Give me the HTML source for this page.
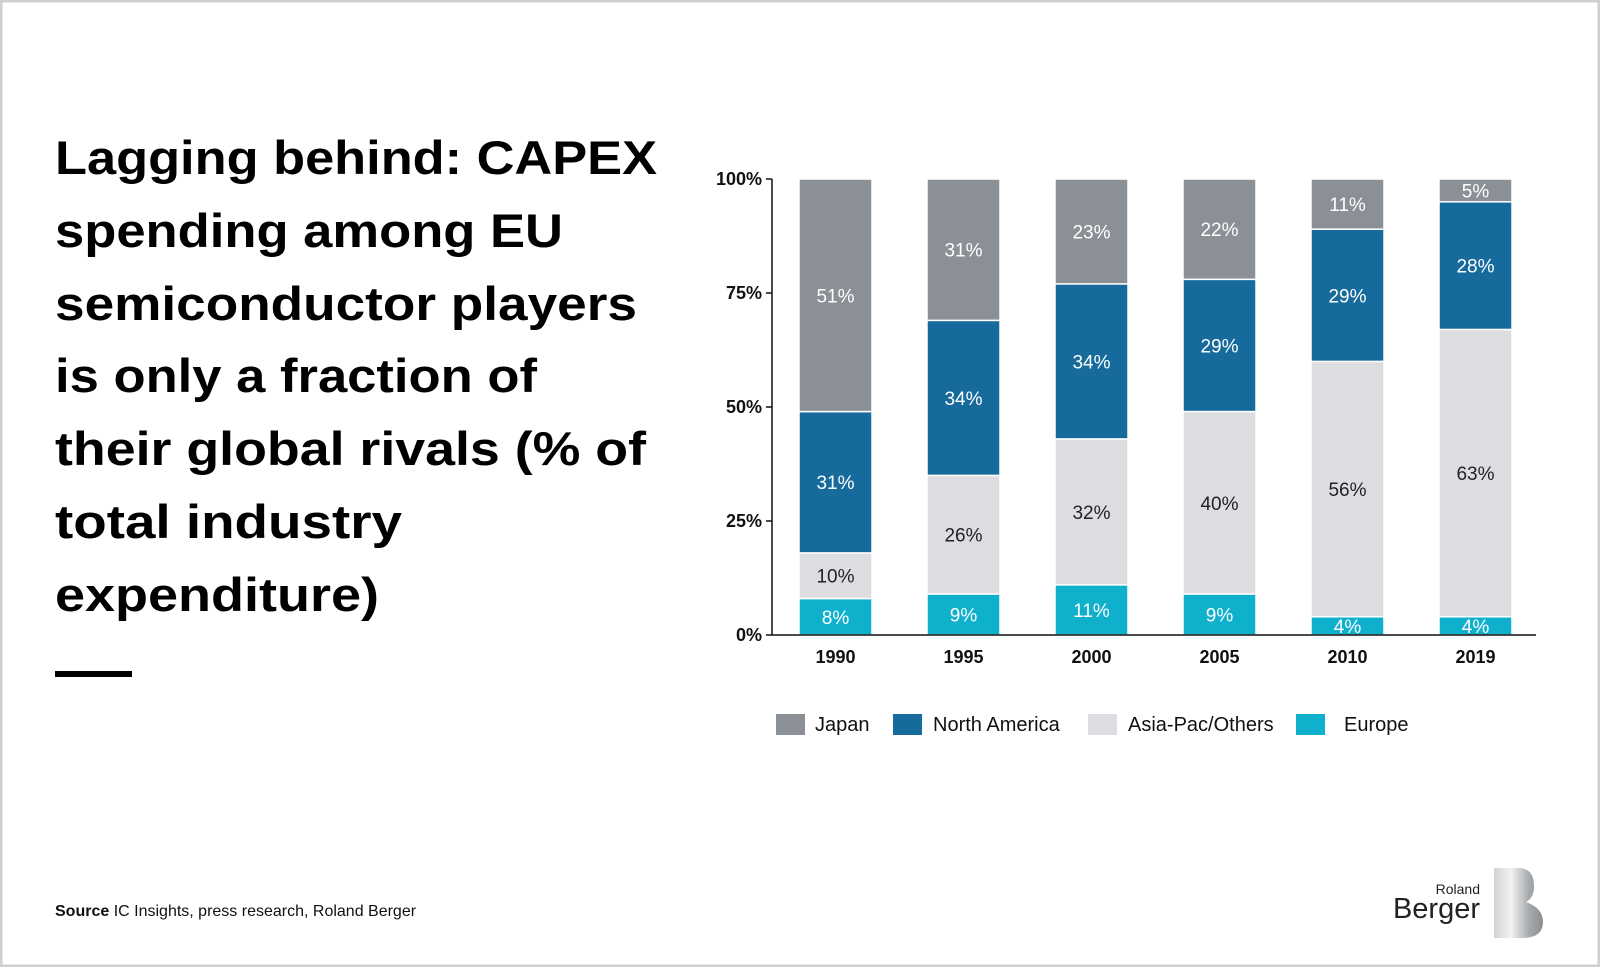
<!DOCTYPE html>
<html><head><meta charset="utf-8"><style>
html,body{margin:0;padding:0;background:#fff}
body{width:1600px;height:967px;overflow:hidden;position:relative;font-family:"Liberation Sans",sans-serif}
</style></head><body>
<svg width="1600" height="967" xmlns="http://www.w3.org/2000/svg">
<defs><linearGradient id="bg" x1="0" x2="1" y1="0" y2="0"><stop offset="0" stop-color="#cfd1d3"/><stop offset="0.35" stop-color="#f2f3f4"/><stop offset="0.7" stop-color="#a9acaf"/><stop offset="1" stop-color="#8a8d90"/></linearGradient></defs>
<rect x="1" y="1" width="1598" height="965" fill="#fff" stroke="#cfcfcf" stroke-width="3"/>
<g font-family="Liberation Sans, sans-serif" font-weight="bold" font-size="47" fill="#000">
<text x="55" y="174" textLength="602" lengthAdjust="spacingAndGlyphs">Lagging behind: CAPEX</text>
<text x="55" y="247" textLength="508" lengthAdjust="spacingAndGlyphs">spending among EU</text>
<text x="55" y="320" textLength="582" lengthAdjust="spacingAndGlyphs">semiconductor players</text>
<text x="55" y="392" textLength="482" lengthAdjust="spacingAndGlyphs">is only a fraction of</text>
<text x="55" y="465" textLength="591" lengthAdjust="spacingAndGlyphs">their global rivals (% of</text>
<text x="55" y="538" textLength="347" lengthAdjust="spacingAndGlyphs">total industry</text>
<text x="55" y="611" textLength="324" lengthAdjust="spacingAndGlyphs">expenditure)</text>
</g>
<rect x="55" y="671" width="77" height="6" fill="#000"/>
<text x="55" y="916" font-size="16" fill="#111"><tspan font-weight="bold">Source</tspan> IC Insights, press research, Roland Berger</text>
<g>
<text x="1480" y="894" font-size="14" fill="#222" text-anchor="end">Roland</text>
<text x="1480" y="918" font-size="29" fill="#222" text-anchor="end">Berger</text>
<path d="M1494,868 H1518 Q1534,868 1534,886 Q1534,898 1526,902 Q1543,908 1543,922 Q1543,938 1522,938 H1494 Z" fill="url(#bg)"/>
</g>
<g id="chart"></g>
</svg>
<script>
const years = ['1990','1995','2000','2005','2010','2019'];
const europe = [8,9,11,9,4,4];
const asia = [10,26,32,40,56,63];
const northAmerica = [31,34,34,29,29,28];
const japan = [51,31,23,22,11,5];
const yTicks = [0,25,50,75,100];
const seriesNames = ['Japan','North America','Asia-Pac/Others','Europe'];

const NS='http://www.w3.org/2000/svg';
const g=document.getElementById('chart');
const x0=772, y0=635, yTop=179, barW=73, step=128, firstBar=799;
const yS=v=>y0-(v/100)*(y0-yTop);
const xS=i=>firstBar+i*step;
function mk(tag,attrs,parent){const e=document.createElementNS(NS,tag);for(const k in attrs)e.setAttribute(k,attrs[k]);(parent||g).appendChild(e);return e;}

const stack=[
 {vals:europe,color:'#0fb0cc',text:'#fff',name:'europe'},
 {vals:asia,color:'#dcdde0',text:'#222',name:'asia-pac'},
 {vals:northAmerica,color:'#176b9c',text:'#fff',name:'north-america'},
 {vals:japan,color:'#8b8f96',text:'#fff',name:'japan'}];

years.forEach((yr,i)=>{
  let cum=0;
  stack.forEach(s=>{
    const v=s.vals[i];
    const yt=yS(cum+v), yb=yS(cum);
    const r=mk('rect',{x:xS(i),y:yt,width:barW,height:yb-yt,fill:s.color,stroke:'#fff','stroke-width':1.5});
    
    
    const t=mk('text',{x:xS(i)+barW/2,y:(yt+yb)/2+7,'text-anchor':'middle','font-size':19,fill:s.text});
    t.textContent=v+'%';
    
    
    cum+=v;
  });
  const xl=mk('text',{x:xS(i)+barW/2,y:663,'text-anchor':'middle','font-size':18,'font-weight':'bold',fill:'#111'});
  xl.textContent=yr;
  
  
});

const ya=mk('line',{x1:x0,y1:yTop,x2:x0,y2:y0,stroke:'#111','stroke-width':1.5});


const xa=mk('line',{x1:x0,y1:y0,x2:1536,y2:y0,stroke:'#111','stroke-width':1.5});


yTicks.forEach(v=>{
  mk('line',{x1:x0-6,y1:yS(v),x2:x0,y2:yS(v),stroke:'#111','stroke-width':1.5});
  const t=mk('text',{x:x0-10,y:yS(v)+6,'text-anchor':'end','font-size':18,'font-weight':'bold',fill:'#111'});
  t.textContent=v+'%';
  
  
});

const legendColors=['#8b8f96','#176b9c','#dcdde0','#0fb0cc'];
const legSw=[776,893,1088,1296], legTx=[815,933,1128,1344];
seriesNames.forEach((n,i)=>{
  const r=mk('rect',{x:legSw[i],y:714,width:29,height:21,fill:legendColors[i]});
  
  
  const t=mk('text',{x:legTx[i],y:731,'font-size':20,fill:'#111'});
  t.textContent=n;
  
  
});
</script>
</body></html>
